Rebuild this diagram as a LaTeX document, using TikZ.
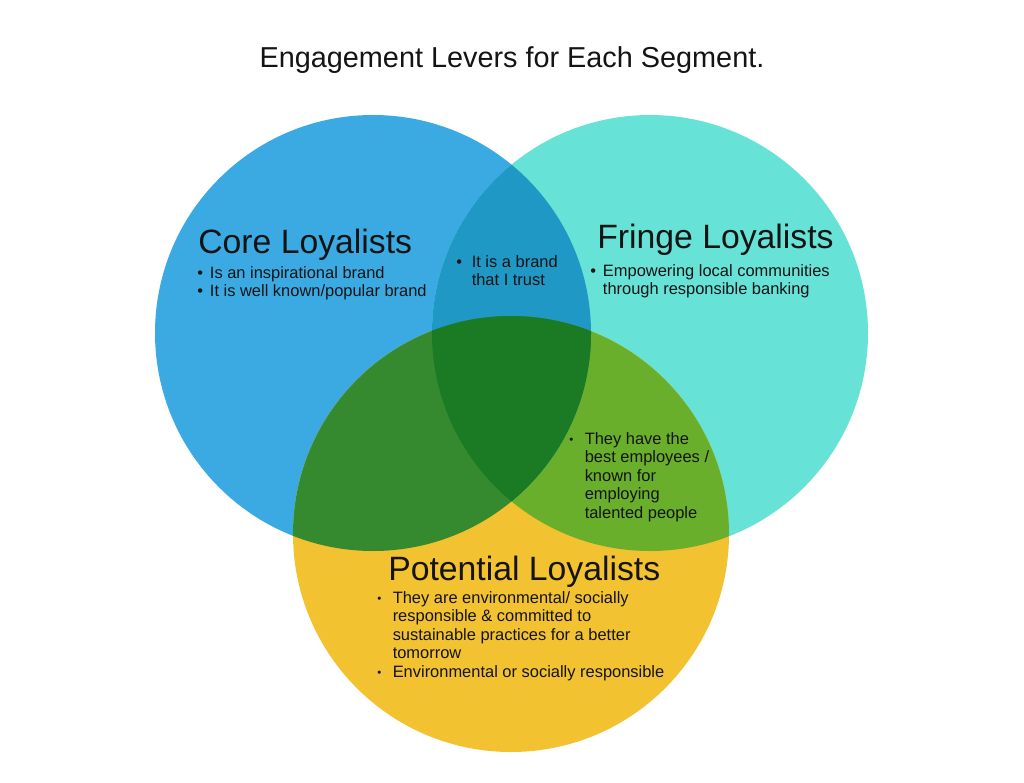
\documentclass[tikz,border=0pt]{standalone}
\usepackage{fontspec}
\setmainfont{Liberation Sans}

\definecolor{coreblue}{HTML}{3BAAE3}
\definecolor{fringeteal}{HTML}{67E2D6}
\definecolor{potyellow}{HTML}{F3C231}
\definecolor{blueteal}{HTML}{1F98C6}
\definecolor{blueyellow}{HTML}{358A2F}
\definecolor{tealyellow}{HTML}{69AF2B}
\definecolor{allthree}{HTML}{1B7B25}
\definecolor{inktext}{HTML}{141414}

\newcommand\bul{\makebox[9pt][l]{\textbullet}}
\newcommand\ind{\hspace*{9pt}}
\newcommand\dotbul{\makebox[11pt][l]{\raisebox{0.4pt}{\scalebox{0.7}{\textbullet}}}}
\newcommand\dotind{\hspace*{11pt}}
\newcommand\vennrad{218}

\begin{document}
\begin{tikzpicture}[x=0.025cm,y=-0.025cm,text=inktext,
		head/.style={inner sep=0pt,anchor=base west,font=\fontsize{24}{28}\selectfont},
		items/.style={inner sep=0pt,anchor=north west,align=left,font=\fontsize{11.7}{13.2}\selectfont}]
		\useasboundingbox[fill=white] (0,0) rectangle (1024,782);
		\coordinate (cblue) at (373,333);
		\coordinate (cteal) at (650,333);
		\coordinate (cyellow) at (511,534);
		\fill[coreblue] (cblue) circle[radius=\vennrad];
		\fill[fringeteal] (cteal) circle[radius=\vennrad];
		\fill[potyellow] (cyellow) circle[radius=\vennrad];
		\begin{scope}
			\clip (cteal) circle[radius=\vennrad];
			\fill[tealyellow] (cyellow) circle[radius=\vennrad];
		\end{scope}
		\begin{scope}
			\clip (cblue) circle[radius=\vennrad];
			\fill[blueteal] (cteal) circle[radius=\vennrad];
			\fill[blueyellow] (cyellow) circle[radius=\vennrad];
			\clip (cteal) circle[radius=\vennrad];
			\fill[allthree] (cyellow) circle[radius=\vennrad];
		\end{scope}

		\node[font=\fontsize{20.5}{24}\selectfont,anchor=base] (title) at (512,67) {Engagement Levers for Each Segment.};

		\node[head] (core) at (198,253) {Core Loyalists};
		\node[head] (fringe) at (597,248) {Fringe Loyalists};
		\node[head] (potential) at (388,580) {Potential Loyalists};

		\node[items] (coreitems) at (197,266) {\bul Is an inspirational brand\\ \bul It is well known/popular brand};
		\node[items] (trustitem) at (456,255) {\makebox[11pt][l]{\textbullet}It is a brand\\ \hspace*{11pt}that I trust};
		\node[items] (fringeitems) at (590,264) {\bul Empowering local communities\\ \ind through responsible banking};
		\node[items] (staffitems) at (569,432) {\dotbul They have the\\ \dotind best employees /\\ \dotind known for\\ \dotind employing\\ \dotind talented people};
		\node[items] (potitems) at (377,591) {\dotbul They are environmental/ socially\\ \dotind responsible \& committed to\\ \dotind sustainable practices for a better\\ \dotind tomorrow\\ \dotbul Environmental or socially responsible};
	\end{tikzpicture}
\end{document}
